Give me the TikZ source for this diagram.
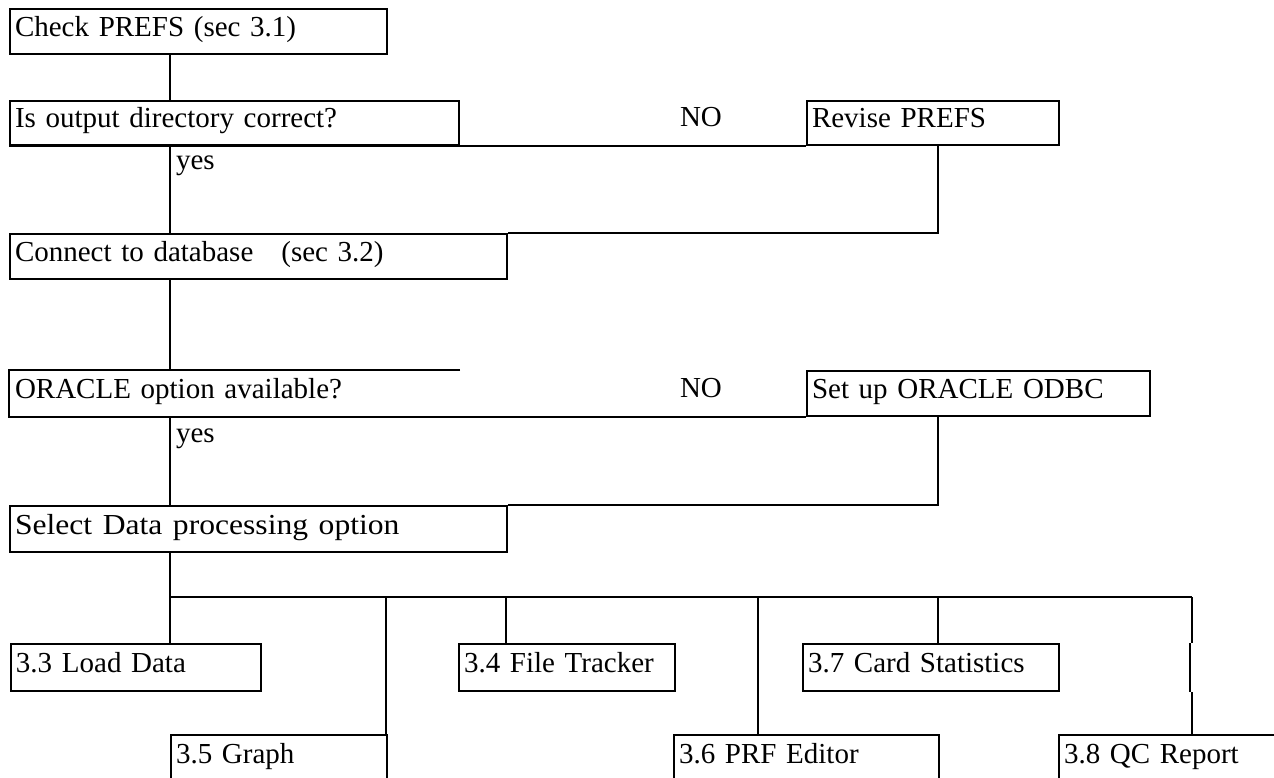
\documentclass[tikz,border=0pt]{standalone}
\usepackage{fontspec}
\setmainfont{Liberation Serif}
\begin{document}
\begin{tikzpicture}[x=1pt, y=-1pt, line width=2pt,
  txt/.style={font=\fontsize{29pt}{34pt}\selectfont, inner sep=0pt},
  box/.style={txt, draw, anchor=north west, align=left,
    inner xsep=5pt, inner ysep=0pt, text height=18pt, text depth=8pt,
    minimum height=45pt},
  lowbox/.style={box, minimum height=47pt},
]
% page area
\clip (0,0) rectangle (1274,778);
\fill[white] (0,0) rectangle (1274,778);

% main column
\node[box, text width=367pt] (prefs)   at (9,8)    {Check PREFS (sec 3.1)};
\node[box, text width=439pt, minimum height=44pt] (outdir) at (9,100) {Is output directory correct?};
\node[box, text width=242pt, minimum height=44pt] (revise) at (806,100) {Revise PREFS};
\node[box, text width=487pt] (connect) at (9,233)  {Connect to database\hspace{28pt}(sec 3.2)};
\node[box, draw=none, text width=439pt] (oracle) at (9,370) {ORACLE option available?};
\node[box, text width=333pt] (setup)   at (806,370) {Set up ORACLE ODBC};
\node[box, text width=487pt, minimum height=46pt] (select) at (9,505) {\scalebox{1.09}[1]{Select Data processing option}};

% processing options
\node[lowbox, text width=240pt] (load)   at (10,643)  {3.3 Load Data};
\node[lowbox, text width=206pt] (ftrack) at (458,643) {3.4 File Tracker};
\node[lowbox, text width=246pt] (card)   at (802,643) {3.7 Card Statistics};
\node[lowbox, text width=206pt] (graph)  at (170,734) {3.5 Graph};
\node[lowbox, text width=255pt] (prf)    at (673,734) {3.6 PRF Editor};
\node[lowbox, text width=250pt] (qc)     at (1058,734) {3.8 QC Report};

% answer labels
\node[txt, anchor=base west] (no1)  at (679,127) {NO};
\node[txt, anchor=base west] (no2)  at (679,397) {NO};
\node[txt, anchor=base west] (yes1) at (175,170) {yes};
\node[txt, anchor=base west] (yes2) at (175,442) {yes};

% guide coordinates
\coordinate (spine) at (170,0);
\coordinate (loop)  at (938,0);
\coordinate (b1) at (170,597);
\coordinate (b2) at (386,597);
\coordinate (b3) at (506,597);
\coordinate (b4) at (758,597);
\coordinate (b5) at (938,597);
\coordinate (b6) at (1192,597);
\coordinate (b6j) at (1190,643);

% first decision
\draw (spine |- prefs.south) -- (spine |- outdir.north);
\draw (outdir.south west) -- (revise.south west);
\draw (spine |- outdir.south) -- (spine |- connect.north);
\draw (loop |- revise.south) -- (loop |- connect.north) -- (connect.north east);

% second decision
\draw (spine |- connect.south) -- (spine |- oracle.north);
\draw (oracle.north east) -- (oracle.north west) -- (oracle.south west) -- (setup.south west);
\draw (spine |- oracle.south) -- (spine |- select.north);
\draw (loop |- setup.south) -- (loop |- select.north) -- (select.north east);

% option bus
\draw (spine |- select.south) -- (b1) -- (b6);
\draw (b1) -- (b1 |- load.north);
\draw (b2) -- (b2 |- graph.north);
\draw (b3) -- (b3 |- ftrack.north);
\draw (b4) -- (b4 |- prf.north);
\draw (b5) -- (b5 |- card.north);
\draw (b6) -- (b6 |- card.north);
\draw (b6j) -- (b6j |- card.south);
\draw (b6 |- card.south) -- (b6 |- qc.north);
\end{tikzpicture}
\end{document}
